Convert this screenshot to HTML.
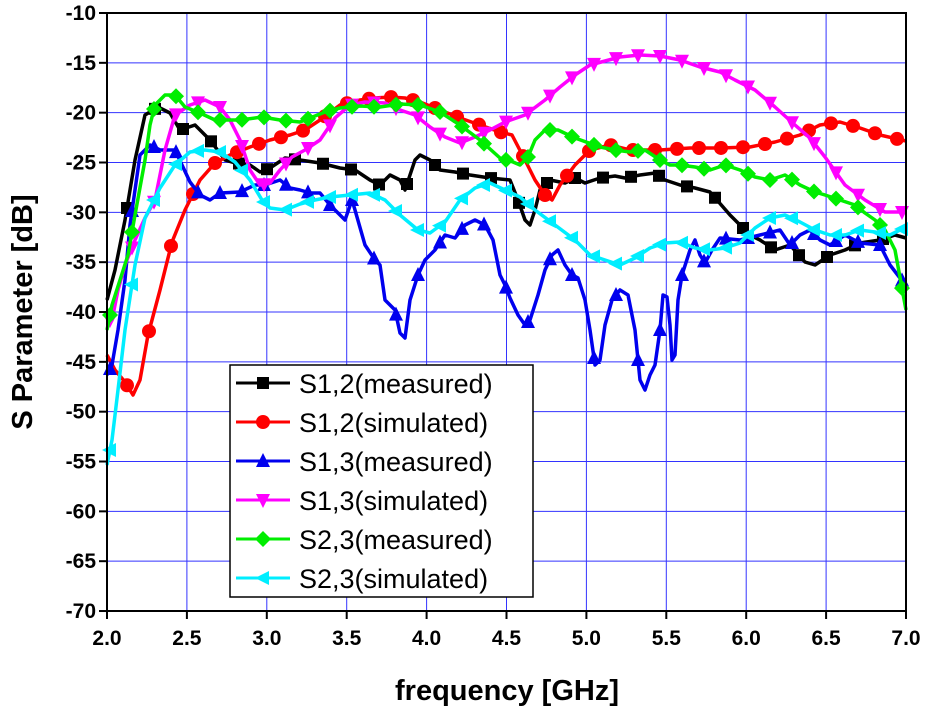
<!DOCTYPE html><html><head><meta charset="utf-8"><style>
html,body{margin:0;padding:0;background:#fff;width:926px;height:709px;overflow:hidden}
svg text{font-family:"Liberation Sans",Arial,sans-serif;font-weight:bold}
</style></head><body>
<svg id="s" width="926" height="709" xmlns="http://www.w3.org/2000/svg">
<g id="grid" stroke="#3333ff" stroke-width="1"></g>
<g id="ser"></g>
<rect x="107" y="13" width="799" height="598" fill="none" stroke="#000" stroke-width="2"/>
<g id="ticks" stroke="#000" stroke-width="2"></g>
<g id="lab" font-size="21" fill="#000"></g>
<text x="507" y="700" font-size="29" text-anchor="middle">frequency [GHz]</text>
<text transform="translate(32,312) rotate(-90)" font-size="29" text-anchor="middle">S Parameter [dB]</text>
<g id="leg"><rect x="230" y="365" width="303" height="232" fill="#fff" stroke="#000" stroke-width="1.5"/></g>
</svg>
<script>
var NS="http://www.w3.org/2000/svg";
function el(p,t,a,txt){var e=document.createElementNS(NS,t);for(var k in a)e.setAttribute(k,a[k]);if(txt)e.textContent=txt;document.getElementById(p).appendChild(e);return e;}
function X(f){return 107+(f-2)*159.8}function Y(d){return 13+(-10-d)*9.967}
for(var f=2.5;f<7;f+=0.5)el("grid","line",{x1:X(f),x2:X(f),y1:13,y2:611});
for(var d=-15;d>-70;d-=5)el("grid","line",{x1:107,x2:906,y1:Y(d),y2:Y(d)});
for(var f=2;f<=7.001;f+=0.5){el("ticks","line",{x1:X(f),x2:X(f),y1:611,y2:619});el("lab","text",{x:X(f),y:645,"text-anchor":"middle"},f.toFixed(1));}
for(var d=-10;d>=-70;d-=5){el("ticks","line",{x1:99,x2:107,y1:Y(d),y2:Y(d)});el("lab","text",{x:96,y:Y(d)+7,"text-anchor":"end"},String(d));}
var S=[
["#000","sq",[[107,300],[115,270],[125,220],[135,160],[145,115],[158,107],[170,113],[180,130],[195,125],[210,140],[225,160],[235,163],[250,165],[260,172],[270,168],[285,158],[300,160],[320,163],[340,168],[355,170],[370,180],[380,185],[390,175],[400,180],[405,190],[415,160],[420,155],[430,160],[440,170],[455,172],[470,175],[490,178],[510,180],[518,200],[525,220],[530,225],[535,210],[540,190],[550,180],[565,183],[575,178],[585,183],[600,178],[615,176],[625,178],[640,175],[655,173],[665,180],[680,185],[695,188],[710,192],[730,215],[740,225],[750,235],[760,240],[775,250],[790,245],[805,262],[815,265],[830,255],[845,250],[860,243],[880,240],[895,235],[906,238]],28],
["#ff0000","ci",[[107,355],[115,370],[125,382],[133,395],[140,380],[148,335],[160,290],[172,242],[185,210],[200,180],[215,163],[230,155],[250,147],[270,140],[290,135],[305,130],[320,120],[340,105],[360,100],[375,98],[390,97],[405,98],[420,102],[440,110],[460,118],[480,125],[500,132],[512,135],[525,160],[535,180],[545,195],[552,200],[560,185],[575,165],[590,150],[610,145],[630,150],[660,150],[690,148],[720,148],[750,147],[775,142],[800,135],[820,125],[840,122],[860,128],[880,135],[906,141]],22],
["#0000ee","up",[[107,375],[112,365],[118,330],[125,280],[130,225],[140,155],[150,145],[160,150],[175,150],[182,165],[190,182],[200,195],[210,200],[220,193],[240,192],[255,185],[265,185],[280,180],[290,188],[300,190],[310,193],[320,193],[330,205],[340,215],[345,220],[352,200],[355,210],[365,245],[375,260],[380,265],[385,300],[395,310],[400,333],[405,338],[410,300],[418,275],[425,260],[435,250],[445,235],[455,238],[465,225],[475,220],[485,225],[493,240],[500,275],[505,285],[510,298],[518,315],[525,325],[530,320],[538,295],[545,270],[552,255],[558,250],[565,265],[572,275],[578,278],[585,300],[590,330],[595,365],[600,360],[605,325],[612,300],[620,290],[628,295],[635,330],[640,380],[645,390],[650,375],[655,365],[660,330],[663,295],[667,297],[670,325],[672,360],[675,355],[678,300],[682,275],[690,250],[695,240],[700,255],[705,263],[712,250],[720,238],[740,240],[760,235],[780,230],[790,245],[800,235],[810,230],[820,240],[830,245],[845,235],[860,243],[880,245],[890,265],[900,278],[906,285]],22],
["#ff00ff","dn",[[107,320],[112,320],[118,290],[125,265],[135,240],[145,218],[155,200],[165,150],[175,115],[190,105],[205,100],[220,107],[230,120],[240,140],[250,170],[260,185],[270,183],[280,170],[292,157],[305,150],[320,140],[335,118],[350,105],[365,102],[385,103],[400,110],[415,115],[430,127],[445,137],[460,143],[475,137],[490,130],[505,122],[525,115],[545,100],[560,87],[575,75],[590,65],[605,61],[620,57],[640,55],[660,56],[680,60],[700,67],[720,72],[735,80],[755,90],[775,107],[795,125],[810,138],[825,157],[845,185],[865,200],[885,212],[906,212]],22],
["#00ee00","di",[[107,330],[112,305],[120,280],[128,255],[135,215],[145,160],[150,125],[155,105],[165,95],[175,95],[185,107],[200,113],[215,120],[240,120],[262,117],[280,120],[300,122],[325,112],[340,108],[360,106],[380,107],[400,104],[420,105],[440,112],[460,125],[480,140],[500,158],[513,162],[520,165],[528,157],[535,140],[545,130],[558,130],[575,138],[600,147],[615,150],[630,152],[645,150],[660,160],[670,165],[680,165],[695,167],[710,170],[725,165],[740,170],[755,177],[770,180],[785,175],[800,185],[815,192],[825,195],[840,200],[855,205],[865,213],[875,220],[885,230],[895,250],[906,310]],22],
["#00eeff","lf",[[107,465],[112,440],[118,390],[125,330],[135,265],[145,218],[160,188],[175,165],[190,152],[205,150],[220,152],[235,162],[250,180],[262,200],[270,208],[285,210],[300,204],[315,200],[330,197],[350,195],[370,193],[385,200],[400,215],[418,230],[430,233],[445,222],[460,200],[475,188],[490,183],[505,190],[520,197],[535,210],[555,225],[575,240],[590,255],[605,260],[620,265],[635,258],[650,248],[665,243],[680,242],[695,248],[710,250],[725,248],[740,243],[755,228],[770,218],[785,215],[800,222],[815,230],[830,235],[845,235],[860,230],[875,232],[890,235],[906,227]],22]];
function mk(g,t,c,x,y){
if(t=="sq")el(g,"rect",{x:x-6,y:y-6,width:12,height:12,fill:c});
else if(t=="ci")el(g,"circle",{cx:x,cy:y,r:7,fill:c});
else if(t=="up")el(g,"polygon",{points:(x)+","+(y-8)+" "+(x+7)+","+(y+6)+" "+(x-7)+","+(y+6),fill:c});
else if(t=="dn")el(g,"polygon",{points:(x)+","+(y+8)+" "+(x+7)+","+(y-6)+" "+(x-7)+","+(y-6),fill:c});
else if(t=="di")el(g,"polygon",{points:x+","+(y-8)+" "+(x+8)+","+y+" "+x+","+(y+8)+" "+(x-8)+","+y,fill:c});
else if(t=="lf")el(g,"polygon",{points:(x-8)+","+y+" "+(x+6)+","+(y-7)+" "+(x+6)+","+(y+7),fill:c});}
function interp(p,x){for(var i=1;i<p.length;i++)if(p[i][0]>=x){var a=p[i-1],b=p[i];return a[1]+(b[1]-a[1])*(x-a[0])/(b[0]-a[0]);}return p[p.length-1][1];}
S.forEach(function(s){el("ser","polyline",{points:s[2].map(function(p){return p.join(",")}).join(" "),fill:"none",stroke:s[0],"stroke-width":3.5,"stroke-linejoin":"round"});
var off=s[1]=="sq"?127:(s[1]=="ci"?127:110);for(var x=off;x<906;x+=s[3])mk("ser",s[1],s[0],x,interp(s[2],x));});
var names=["S1,2(measured)","S1,2(simulated)","S1,3(measured)","S1,3(simulated)","S2,3(measured)","S2,3(simulated)"];
S.forEach(function(s,i){var y=383+i*39;el("leg","line",{x1:236,x2:290,y1:y,y2:y,stroke:s[0],"stroke-width":3});mk("leg",s[1],s[0],263,y);
el("leg","text",{x:299,y:y+10,"font-size":"27","style":"font-weight:normal"},names[i]);});
</script>
</body></html>
